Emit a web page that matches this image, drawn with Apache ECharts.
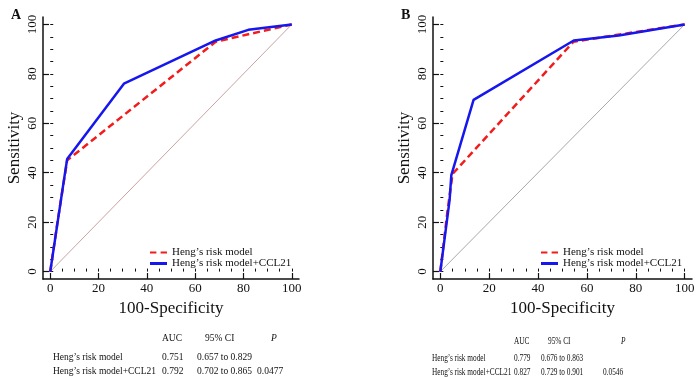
<!DOCTYPE html>
<html>
<head>
<meta charset="utf-8">
<script src="https://cdn.jsdelivr.net/npm/echarts@6/dist/echarts.min.js"></script>
<style>
  html, body { margin: 0; padding: 0; background: #fff; }
  #chart { width: 700px; height: 377px; }
</style>
</head>
<body>
<div id="chart"></div>
<script>
// ROC 曲线数据 (100-Specificity, Sensitivity)
const hengA = [[0, 0], [3, 20], [7, 45], [68.5, 93], [82, 96], [100, 100]];
const hengCclA = [[0, 0], [5.5, 36], [7, 45.5], [30.5, 76], [68.5, 93.5], [82, 97.8], [100, 100]];
const hengB = [[0, 0], [3, 25], [5, 39.5], [54.5, 93], [100, 100]];
const hengCclB = [[0, 0], [3.8, 29], [4.5, 39], [13.6, 69.5], [54.6, 93.5], [73, 95.5], [100, 100]];
const diagonal = [[0, 0], [100, 100]];

const majorTicks = [0, 20, 40, 60, 80, 100];
const minorTicks = [0, 5, 10, 15, 20, 25, 30, 35, 40, 45, 50, 55, 60, 65, 70, 75, 80, 85, 90, 95, 100];

const seriesNames = ['Heng’s risk model', 'Heng’s risk model+CCL21'];

// 表格
const tableHeader = ['AUC', '95% CI', 'P'];
const tableA = [
    ['Heng’s risk model', '0.751', '0.657 to 0.829', ''],
    ['Heng’s risk model+CCL21', '0.792', '0.702 to 0.865', '0.0477'],
];
const tableB = [
    ['Heng’s risk model', '0.779', '0.676 to 0.863', ''],
    ['Heng’s risk model+CCL21', '0.827', '0.729 to 0.901', '0.0546'],
];

const FONT = '"Liberation Serif", "Times New Roman", serif';
const RED = '#f21c1c';
const BLUE = '#1616ee';

const grids = [
    { left: 43, top: 17, width: 256, height: 262 },
    { left: 433, top: 17, width: 259, height: 262 },
];

const xAxes = [];
const yAxes = [];
grids.forEach((g, i) => {
    // 主刻度
    xAxes.push({
        type: 'value', gridIndex: i, min: -3, max: 103, position: 'bottom',
        name: '100-Specificity', nameLocation: 'middle', nameGap: 13,
        nameTextStyle: { fontFamily: FONT, fontSize: 17, color: '#111' },
        axisLine: { show: true, onZero: false, lineStyle: { color: '#111', width: 1.5 } },
        axisTick: { show: true, inside: true, length: 6, customValues: majorTicks, lineStyle: { color: '#111', width: 1.2 } },
        axisLabel: { customValues: majorTicks, margin: 3, fontFamily: FONT, fontSize: 13, color: '#111' },
        splitLine: { show: false },
    });
    // 次刻度
    xAxes.push({
        type: 'value', gridIndex: i, min: -3, max: 103, position: 'bottom', offset: 0,
        axisLine: { show: false },
        axisTick: { show: true, inside: true, length: 3, customValues: minorTicks, lineStyle: { color: '#111', width: 1 } },
        axisLabel: { show: false },
        splitLine: { show: false },
    });
    yAxes.push({
        type: 'value', gridIndex: i, min: -3, max: 103, position: 'left',
        name: 'Sensitivity', nameLocation: 'middle', nameGap: 20,
        nameTextStyle: { fontFamily: FONT, fontSize: 17, color: '#111' },
        axisLine: { show: true, onZero: false, lineStyle: { color: '#111', width: 1.5 } },
        axisTick: { show: true, inside: true, length: 6, customValues: majorTicks, lineStyle: { color: '#111', width: 1.2 } },
        axisLabel: { customValues: majorTicks, rotate: 90, margin: 4, fontFamily: FONT, fontSize: 13, color: '#111' },
        splitLine: { show: false },
    });
    yAxes.push({
        type: 'value', gridIndex: i, min: -3, max: 103, position: 'left', offset: 0,
        axisLine: { show: false },
        axisTick: { show: true, inside: true, length: 3, customValues: minorTicks, lineStyle: { color: '#111', width: 1 } },
        axisLabel: { show: false },
        splitLine: { show: false },
    });
});

const makeSeries = (red, blue, diagColor, gi) => [
    {
        type: 'line', xAxisIndex: gi * 2, yAxisIndex: gi * 2, data: diagonal,
        symbol: 'none', silent: true, lineStyle: { color: diagColor, width: 1 },
    },
    {
        name: seriesNames[0], type: 'line', xAxisIndex: gi * 2, yAxisIndex: gi * 2, data: red,
        symbol: 'none', lineStyle: { color: RED, width: 2.5, type: [7, 4] }, itemStyle: { color: RED },
    },
    {
        name: seriesNames[1], type: 'line', xAxisIndex: gi * 2, yAxisIndex: gi * 2, data: blue,
        symbol: 'none', lineStyle: { color: BLUE, width: 2.5 }, itemStyle: { color: BLUE },
    },
];

const legendBase = {
    orient: 'vertical', itemWidth: 17, itemHeight: 3, itemGap: 0, padding: 0,
    textStyle: { fontFamily: FONT, fontSize: 11, lineHeight: 11, color: '#111' },
    data: [
        { name: seriesNames[0], icon: 'path://M0,0h6v2h-6z M10,0h6v2h-6z' },
        { name: seriesNames[1], icon: 'rect' },
    ],
};

const graphic = [];
const addText = (text, x, y, opts, sx) => {
    graphic.push({
        type: 'text', x: x, y: y, scaleX: sx || 1,
        style: Object.assign({ text, fontFamily: FONT, fontSize: 9.5, fill: '#111' }, opts || {}),
    });
};
// 面板标记
addText('A', 11, 8, { fontSize: 14, fontWeight: 'bold' });
addText('B', 401, 8, { fontSize: 14, fontWeight: 'bold' });

const drawTable = (rows, cols, headerY, rowY, sx) => {
    addText(tableHeader[0], cols.aucH, headerY, {}, sx);
    addText(tableHeader[1], cols.ciH, headerY, {}, sx);
    addText(tableHeader[2], cols.pH, headerY, { fontStyle: 'italic' }, sx);
    rows.forEach((r, i) => {
        addText(r[0], cols.label, rowY[i], {}, sx);
        addText(r[1], cols.auc, rowY[i], {}, sx);
        addText(r[2], cols.ci, rowY[i], {}, sx);
        if (r[3]) addText(r[3], cols.p, rowY[i], {}, sx);
    });
};
drawTable(tableA, { label: 53, aucH: 162, auc: 162, ciH: 205, ci: 197, pH: 271, p: 257 }, 333, [352, 366], 1);
drawTable(tableB, { label: 432, aucH: 514, auc: 514, ciH: 548, ci: 541, pH: 621, p: 603 }, 336, [353, 367], 0.77);

const chart = echarts.init(document.getElementById('chart'));
chart.setOption({
    animation: false,
    backgroundColor: '#fff',
    grid: grids,
    xAxis: xAxes,
    yAxis: yAxes,
    legend: [
        Object.assign({ left: 150, top: 247 }, legendBase),
        Object.assign({ left: 541, top: 247 }, legendBase),
    ],
    series: [
        ...makeSeries(hengA, hengCclA, '#c9a3a3', 0),
        ...makeSeries(hengB, hengCclB, '#a8a8a8', 1),
    ],
    graphic,
});
</script>
</body>
</html>
